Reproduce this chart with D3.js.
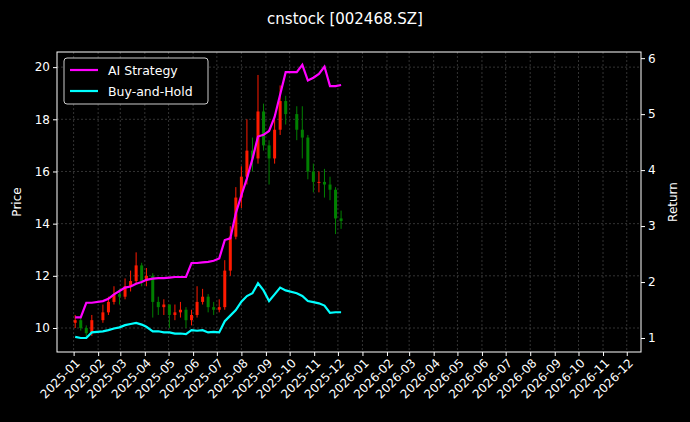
<!DOCTYPE html>
<html><head><meta charset="utf-8">
<script src="https://cdn.jsdelivr.net/npm/d3@7"></script>
<style>body{margin:0;background:#000}svg{font-family:"DejaVu Sans",sans-serif}</style>
</head><body><svg id="c" width="690" height="422"></svg>
<script>
// weekly candles (Friday dates)
var dates = ["2025-01-03","2025-01-10","2025-01-17","2025-01-24","2025-02-07","2025-02-14","2025-02-21","2025-02-28",
 "2025-03-07","2025-03-14","2025-03-21","2025-03-28","2025-04-03","2025-04-11","2025-04-18","2025-04-25",
 "2025-05-02","2025-05-09","2025-05-16","2025-05-23","2025-05-30","2025-06-06","2025-06-13","2025-06-20",
 "2025-06-27","2025-07-04","2025-07-11","2025-07-18","2025-07-25","2025-08-01","2025-08-08","2025-08-15",
 "2025-08-22","2025-08-29","2025-09-05","2025-09-12","2025-09-19","2025-09-26","2025-10-10","2025-10-17",
 "2025-10-24","2025-10-31","2025-11-07","2025-11-14","2025-11-21","2025-11-28","2025-12-05"];
var opens = [10.2,10.3,10.0,9.8,10.3,10.6,11.0,11.3,11.2,11.6,11.8,12.4,11.8,12.0,11.0,10.8,10.9,10.5,10.6,10.7,10.3,10.5,11.0,11.2,
 10.8,10.7,10.8,12.2,13.5,15.0,15.8,16.8,16.5,18.3,17.0,16.5,17.6,18.7,18.2,17.6,17.3,16.0,15.6,15.6,15.5,15.3,14.2];
var closes = [10.3,10.0,9.8,10.3,10.6,11.0,11.3,11.2,11.6,11.8,12.4,11.8,12.0,11.0,10.8,10.9,10.5,10.6,10.7,10.3,10.5,11.0,11.2,10.8,
 10.7,10.8,12.2,13.5,15.0,15.8,16.8,16.5,18.3,17.0,16.5,17.6,18.7,18.2,17.6,17.3,16.0,15.6,15.6,15.5,15.3,14.2,14.1];
var highs = [10.5,10.4,10.1,10.5,10.9,11.2,11.6,11.5,11.9,12.2,12.9,12.5,12.3,12.1,11.2,11.1,10.9,10.9,11.0,10.8,10.7,11.6,11.5,11.3,
 11.0,11.1,12.6,13.9,15.4,16.2,18.0,17.3,19.7,18.6,17.2,18.2,19.3,18.9,18.5,18.5,17.4,16.3,16.0,16.1,15.8,15.4,14.5];
var lows = [10.0,9.9,9.6,9.7,10.2,10.5,10.9,10.9,11.1,11.4,11.7,11.6,11.6,10.4,10.5,10.5,10.0,10.3,10.4,10.0,10.1,10.4,10.9,10.6,
 10.5,10.6,10.7,12.0,13.4,14.6,15.5,16.0,16.3,16.8,15.5,16.3,17.4,17.8,17.2,16.5,15.7,15.2,15.2,15.0,14.9,13.6,13.8];
var aiReturn = [1.37,1.37,1.63,1.63,1.66,1.70,1.78,1.84,1.90,1.92,1.97,2.00,2.04,2.06,2.07,2.07,2.08,2.09,2.09,2.09,2.34,2.34,2.35,2.36,
 2.38,2.42,2.75,2.78,3.23,3.55,3.85,4.20,4.60,4.63,4.70,4.95,5.35,5.75,5.75,5.88,5.60,5.65,5.72,5.85,5.50,5.50,5.52];
var bhReturn = [1.02,1.00,1.00,1.10,1.12,1.14,1.17,1.19,1.23,1.25,1.27,1.24,1.20,1.12,1.12,1.10,1.10,1.08,1.08,1.07,1.14,1.13,1.14,1.10,
 1.11,1.10,1.30,1.40,1.50,1.65,1.75,1.80,1.98,1.85,1.66,1.78,1.90,1.85,1.80,1.75,1.66,1.64,1.62,1.58,1.45,1.46,1.46];
var priceTicks = [10,12,14,16,18,20];
var returnTicks = [1,2,3,4,5,6];

var parse = d3.timeParse("%Y-%m-%d");
var data = dates.map(function(d,i){return {t:parse(d),o:opens[i],c:closes[i],h:highs[i],l:lows[i],ai:aiReturn[i],bh:bhReturn[i]};});

var L=57,R=641,T=52,B=352;
var svg = d3.select("#c");
svg.append("rect").attr("width",690).attr("height",422).attr("fill","#000");

var x = d3.scaleTime().domain([new Date(2024,11,11), new Date(2026,11,19)]).range([L,R]);
var y = d3.scaleLinear().domain([9.08,20.58]).range([B,T]);
var y2 = d3.scaleLinear().domain([0.75,6.11]).range([B,T]);

var months = d3.timeMonth.range(new Date(2025,0,1), new Date(2027,0,1));
// grid
svg.append("g").selectAll("line").data(months).join("line")
  .attr("x1",x).attr("x2",x).attr("y1",T).attr("y2",B)
  .attr("stroke","#555").attr("stroke-width",0.6).attr("stroke-dasharray","2,2");
svg.append("g").selectAll("line").data(priceTicks).join("line")
  .attr("x1",L).attr("x2",R).attr("y1",y).attr("y2",y)
  .attr("stroke","#555").attr("stroke-width",0.6).attr("stroke-dasharray","2,2");

// candles
var cw = 3;
var cg = svg.append("g");
cg.selectAll("line").data(data).join("line")
  .attr("x1",function(d){return x(d.t);}).attr("x2",function(d){return x(d.t);})
  .attr("y1",function(d){return y(d.h);}).attr("y2",function(d){return y(d.l);})
  .attr("stroke",function(d){return d.c>=d.o?"#ff1a00":"#008000";}).attr("stroke-width",1);
cg.selectAll("rect").data(data).join("rect")
  .attr("x",function(d){return x(d.t)-cw/2;}).attr("width",cw)
  .attr("y",function(d){return y(Math.max(d.o,d.c));})
  .attr("height",function(d){return Math.max(1,Math.abs(y(d.o)-y(d.c)));})
  .attr("fill",function(d){return d.c>=d.o?"#ff1a00":"#008000";});

// returns
svg.append("path").datum(data).attr("fill","none").attr("stroke","#ff00ff").attr("stroke-width",2.2)
  .attr("d",d3.line().x(function(d){return x(d.t);}).y(function(d){return y2(d.ai);}));
svg.append("path").datum(data).attr("fill","none").attr("stroke","#00ffff").attr("stroke-width",2.2)
  .attr("d",d3.line().x(function(d){return x(d.t);}).y(function(d){return y2(d.bh);}));

// frame
svg.append("rect").attr("x",L).attr("y",T).attr("width",R-L).attr("height",B-T)
  .attr("fill","none").attr("stroke","#fff").attr("stroke-width",1);

// axes
var ax = svg.append("g").attr("transform","translate(0,"+B+")")
  .call(d3.axisBottom(x).tickValues(months).tickFormat(d3.timeFormat("%Y-%m")).tickSize(4));
ax.selectAll("text").attr("transform","rotate(-45)").attr("text-anchor","end")
  .attr("dx","-0.3em").attr("dy","0.5em");
var ay = svg.append("g").attr("transform","translate("+L+",0)")
  .call(d3.axisLeft(y).tickValues(priceTicks).tickSize(4));
var ay2 = svg.append("g").attr("transform","translate("+R+",0)")
  .call(d3.axisRight(y2).tickValues(returnTicks).tickFormat(d3.format("d")).tickSize(4));
[ax,ay,ay2].forEach(function(g){
  g.select(".domain").remove();
  g.selectAll("line").attr("stroke","#fff");
  g.selectAll("text").attr("fill","#fff").attr("font-size",12).attr("font-family","DejaVu Sans");
});

svg.append("text").attr("x",345).attr("y",24).attr("text-anchor","middle").attr("fill","#fff")
  .attr("font-size",15).text("cnstock [002468.SZ]");
svg.append("text").attr("transform","translate(21,"+((T+B)/2)+") rotate(-90)").attr("text-anchor","middle")
  .attr("fill","#fff").attr("font-size",12).text("Price");
svg.append("text").attr("transform","translate(677,"+((T+B)/2)+") rotate(-90)").attr("text-anchor","middle")
  .attr("fill","#fff").attr("font-size",12).text("Return");

// legend
var lg = svg.append("g");
lg.append("rect").attr("x",64).attr("y",58).attr("width",144).attr("height",46).attr("rx",3)
  .attr("fill","#000").attr("stroke","#ccc").attr("stroke-width",1);
[["AI Strategy","#ff00ff"],["Buy-and-Hold","#00ffff"]].forEach(function(s,i){
  var yy = 70+i*21;
  lg.append("line").attr("x1",70).attr("x2",98).attr("y1",yy).attr("y2",yy).attr("stroke",s[1]).attr("stroke-width",2.2);
  lg.append("text").attr("x",108).attr("y",yy+4.5).attr("fill","#fff").attr("font-size",12.5).text(s[0]);
});
</script></body></html>
